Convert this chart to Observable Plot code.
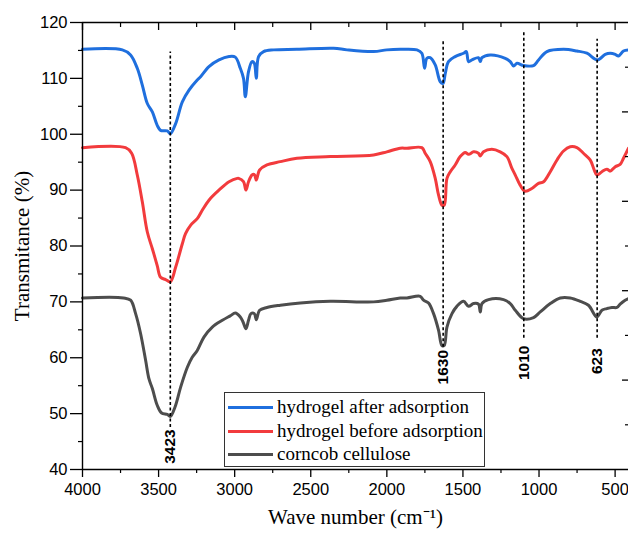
<!DOCTYPE html>
<html>
<head>
<meta charset="utf-8">
<script src="https://cdn.jsdelivr.net/npm/d3@7"></script>
<script src="https://cdn.jsdelivr.net/npm/@observablehq/plot@0.6"></script>
<style>
  html, body { margin: 0; padding: 0; background: #fff; overflow: hidden; }
  #wrap { position: relative; width: 628px; height: 534px; overflow: hidden; }
  #wrap svg { display: block; }
  #legend {
    position: absolute; left: 224px; top: 392px; width: 259px; height: 73px;
    border: 1px solid #333; background: #fff; box-sizing: content-box;
    font-family: "Liberation Serif", "Times New Roman", serif; font-size: 19px; color: #000;
  }
  .row { position: absolute; left: 0; height: 22px; display: flex; align-items: center; white-space: nowrap; }
  .sw { width: 45px; height: 3px; margin-left: 3px; margin-right: 4px; }
</style>
</head>
<body>
<div id="wrap"></div>
<script>
// [wave number (cm-1), transmittance (%)]
const afterAdsorption = [
  [4000,115.2],[3738,115.1],[3684,114.2],[3640,111.8],[3607,108.8],[3574,105.5],[3541,104.0],[3509,101.6],
  [3487,100.7],[3443,100.6],[3423,100.1],[3388,101.9],[3344,105.8],[3300,107.9],[3246,109.7],[3224,110.3],
  [3169,112.1],[3103,113.3],[3037,113.9],[2996,113.8],[2963,111.8],[2942,110.0],[2930,106.7],[2909,111.2],
  [2886,113.0],[2871,112.7],[2858,110.0],[2843,113.9],[2810,114.8],[2744,115.1],[2591,115.2],[2350,115.4],
  [2262,115.1],[2087,114.8],[2000,115.1],[1912,115.2],[1802,115.1],[1770,114.5],[1752,111.8],[1737,113.6],
  [1715,113.7],[1682,112.4],[1649,109.4],[1631,109.1],[1616,110.9],[1595,113.0],[1551,113.9],[1496,114.5],
  [1478,114.8],[1463,113.0],[1441,113.3],[1398,113.7],[1386,113.0],[1375,113.7],[1321,114.2],[1222,113.6],
  [1189,113.0],[1167,112.2],[1145,112.7],[1102,112.3],[1036,112.3],[1003,113.3],[948,114.8],[839,115.2],
  [751,114.9],[685,114.5],[616,113.3],[565,114.3],[532,114.5],[499,114.3],[478,114.0],[445,114.9],[412,115.1]
];
const beforeAdsorption = [
  [4000,97.6],[3717,97.6],[3677,96.6],[3640,92.7],[3607,87.9],[3574,82.5],[3541,79.5],[3509,76.5],
  [3487,74.4],[3454,74.0],[3423,73.6],[3388,76.2],[3344,80.4],[3323,82.2],[3290,83.7],[3246,84.9],
  [3213,86.4],[3169,88.2],[3103,90.0],[3037,91.5],[2983,92.1],[2974,92.1],[2942,91.5],[2926,90.0],
  [2909,91.5],[2886,92.7],[2871,92.8],[2858,91.8],[2836,93.6],[2788,94.5],[2700,95.1],[2591,95.7],
  [2372,96.0],[2087,96.3],[2000,96.85],[1912,97.5],[1868,97.5],[1770,97.6],[1748,96.6],[1715,95.1],
  [1682,92.1],[1660,89.1],[1638,87.3],[1623,87.3],[1605,92.1],[1583,93.3],[1551,94.5],[1518,96.0],
  [1485,96.75],[1463,96.4],[1430,96.85],[1398,96.6],[1386,96.1],[1365,96.85],[1310,97.3],[1255,96.85],
  [1211,96.0],[1178,93.9],[1156,92.7],[1124,90.9],[1091,89.8],[1047,90.3],[1003,91.2],[970,91.5],
  [926,93.3],[882,95.4],[839,97.0],[795,97.75],[751,97.6],[708,96.6],[664,95.4],[637,93.6],
  [620,92.7],[587,93.3],[554,93.75],[532,93.4],[499,94.2],[467,94.6],[445,95.7],[412,97.5]
];
const corncobCellulose = [
  [4000,70.7],[3730,70.7],[3684,70.3],[3651,67.9],[3618,64.3],[3585,59.5],[3563,56.2],[3541,54.5],
  [3509,51.5],[3480,50.1],[3443,49.85],[3423,49.5],[3392,51.2],[3355,54.75],[3311,58.3],[3279,60.1],
  [3246,61.3],[3202,63.7],[3147,65.5],[3081,66.7],[3029,67.5],[2996,68.0],[2963,67.3],[2945,66.4],
  [2926,65.2],[2909,66.7],[2893,67.9],[2871,67.9],[2858,66.8],[2836,68.5],[2788,69.0],[2700,69.4],
  [2569,69.8],[2372,70.1],[2087,70.0],[2000,70.3],[1912,70.7],[1868,70.7],[1781,71.0],[1759,70.3],
  [1726,69.8],[1693,67.9],[1660,64.9],[1638,62.2],[1623,62.2],[1605,65.5],[1572,67.9],[1540,69.2],
  [1496,70.1],[1463,69.2],[1430,69.7],[1398,69.6],[1386,68.2],[1375,69.7],[1332,70.4],[1233,70.4],
  [1189,69.7],[1156,68.5],[1102,67.0],[1036,67.2],[992,68.2],[926,69.7],[860,70.7],[795,70.7],
  [729,70.1],[675,69.4],[620,67.3],[587,68.5],[554,68.8],[521,69.0],[488,69.0],[467,69.6],[434,70.3],[412,70.6]
];

const seriesNames = ["hydrogel after adsorption", "hydrogel before adsorption", "corncob cellulose"];
const seriesColors = ["#1f6fde", "#f23b3d", "#4d4d4d"];

// peak annotations
const peakPos = [3423, 1630, 1100, 618];
const peakLabel = ["3423", "1630", "1010", "623"];
const peakTop = [114.7, 116.9, 118.6, 117.0];
const peakBottom = [47.5, 61.9, 63.5, 63.5];
const peakLabelY = [44.1, 58.3, 59.1, 59.4];

// ticks
const xDomain = [4000, 412];
const xMajor = [4000, 3500, 3000, 2500, 2000, 1500, 1000, 500];
const xMinor = [3750, 3250, 2750, 2250, 1750, 1250, 750];
const yMajor = [40, 50, 60, 70, 80, 90, 100, 110, 120];
const yMinor = [45, 55, 65, 75, 85, 95, 105, 115];
const rightMajor = [104, 88, 72, 56];
const rightMinor = [112, 96, 80, 64, 48];

const toRows = (arr, name) => arr.map(([wn, t]) => ({wn, t, name}));
const seriesData = [afterAdsorption, beforeAdsorption, corncobCellulose];
const lines = seriesData.map((arr, i) => toRows(arr, seriesNames[i]));
const peaks = peakPos.map((p, i) => ({x: p, label: peakLabel[i], top: peakTop[i], bottom: peakBottom[i], ly: peakLabelY[i]}));

const sans = "'Liberation Sans', Arial, sans-serif";
const serif = "'Liberation Serif', 'Times New Roman', serif";
const blank = () => "";

const chart = Plot.plot({
  width: 628,
  height: 534,
  marginLeft: 82,
  marginRight: 0,
  marginTop: 22,
  marginBottom: 65,
  style: {background: "#fff", color: "#000", overflow: "visible"},
  x: {domain: xDomain},
  y: {domain: [40, 120]},
  marks: [
    ...lines.map((d, i) => Plot.line(d, {x: "wn", y: "t", stroke: seriesColors[i], strokeWidth: 3, curve: "catmull-rom"})),
    Plot.ruleX(peaks, {x: "x", y1: "bottom", y2: "top", stroke: "#000", strokeWidth: 1.6, strokeDasharray: "3,2.5"}),
    Plot.text(peaks, {x: "x", y: "ly", text: "label", rotate: -90, fontFamily: sans, fontWeight: "bold", fontSize: 15.5, fill: "#000", textAnchor: "middle", lineAnchor: "middle"}),
    // frame (left, top, bottom; the right side lies beyond the crop)
    Plot.ruleY([40, 120], {stroke: "#000", strokeWidth: 1.4}),
    Plot.ruleX([xDomain[0]], {stroke: "#000", strokeWidth: 1.4}),
    Plot.axisX({anchor: "bottom", ticks: xMajor, tickSize: 8, tickPadding: 6, tickFormat: d => String(d), fontFamily: sans, fontSize: 16.5, label: null, strokeWidth: 1.3}),
    Plot.axisX({anchor: "bottom", ticks: xMinor, tickSize: 4, tickFormat: blank, label: null, strokeWidth: 1.2}),
    Plot.axisX({anchor: "top", ticks: xMajor, tickSize: -7, tickFormat: blank, label: null, strokeWidth: 1.3}),
    Plot.axisX({anchor: "top", ticks: xMinor, tickSize: -4, tickFormat: blank, label: null, strokeWidth: 1.2}),
    Plot.axisY({anchor: "left", ticks: yMajor, tickSize: 12, tickPadding: 3, tickFormat: d => String(d), fontFamily: sans, fontSize: 16.5, label: null, strokeWidth: 1.3}),
    Plot.axisY({anchor: "left", ticks: yMinor, tickSize: 4, tickFormat: blank, label: null, strokeWidth: 1.2}),
    Plot.axisY({anchor: "right", ticks: rightMajor, tickSize: -7, tickFormat: blank, label: null, strokeWidth: 1.3}),
    Plot.axisY({anchor: "right", ticks: rightMinor, tickSize: -4, tickFormat: blank, label: null, strokeWidth: 1.2}),
    Plot.text(["Wave number (cm\u207B\u00B9)"], {frameAnchor: "bottom", dy: 48, lineAnchor: "middle", textAnchor: "middle", fontFamily: serif, fontSize: 21, fill: "#000"}),
    Plot.text(["Transmitance (%)"], {frameAnchor: "left", dx: -60, rotate: -90, lineAnchor: "middle", textAnchor: "middle", fontFamily: serif, fontSize: 21, fill: "#000"})
  ]
});

const wrap = document.getElementById("wrap");
wrap.appendChild(chart);

const legend = document.createElement("div");
legend.id = "legend";
const rowTops = [3, 27, 50];
seriesNames.forEach((name, i) => {
  const row = document.createElement("div");
  row.className = "row";
  row.style.top = rowTops[i] + "px";
  const sw = document.createElement("span");
  sw.className = "sw";
  sw.style.background = seriesColors[i];
  const tx = document.createElement("span");
  tx.textContent = name;
  row.appendChild(sw);
  row.appendChild(tx);
  legend.appendChild(row);
});
wrap.appendChild(legend);
</script>
</body>
</html>
